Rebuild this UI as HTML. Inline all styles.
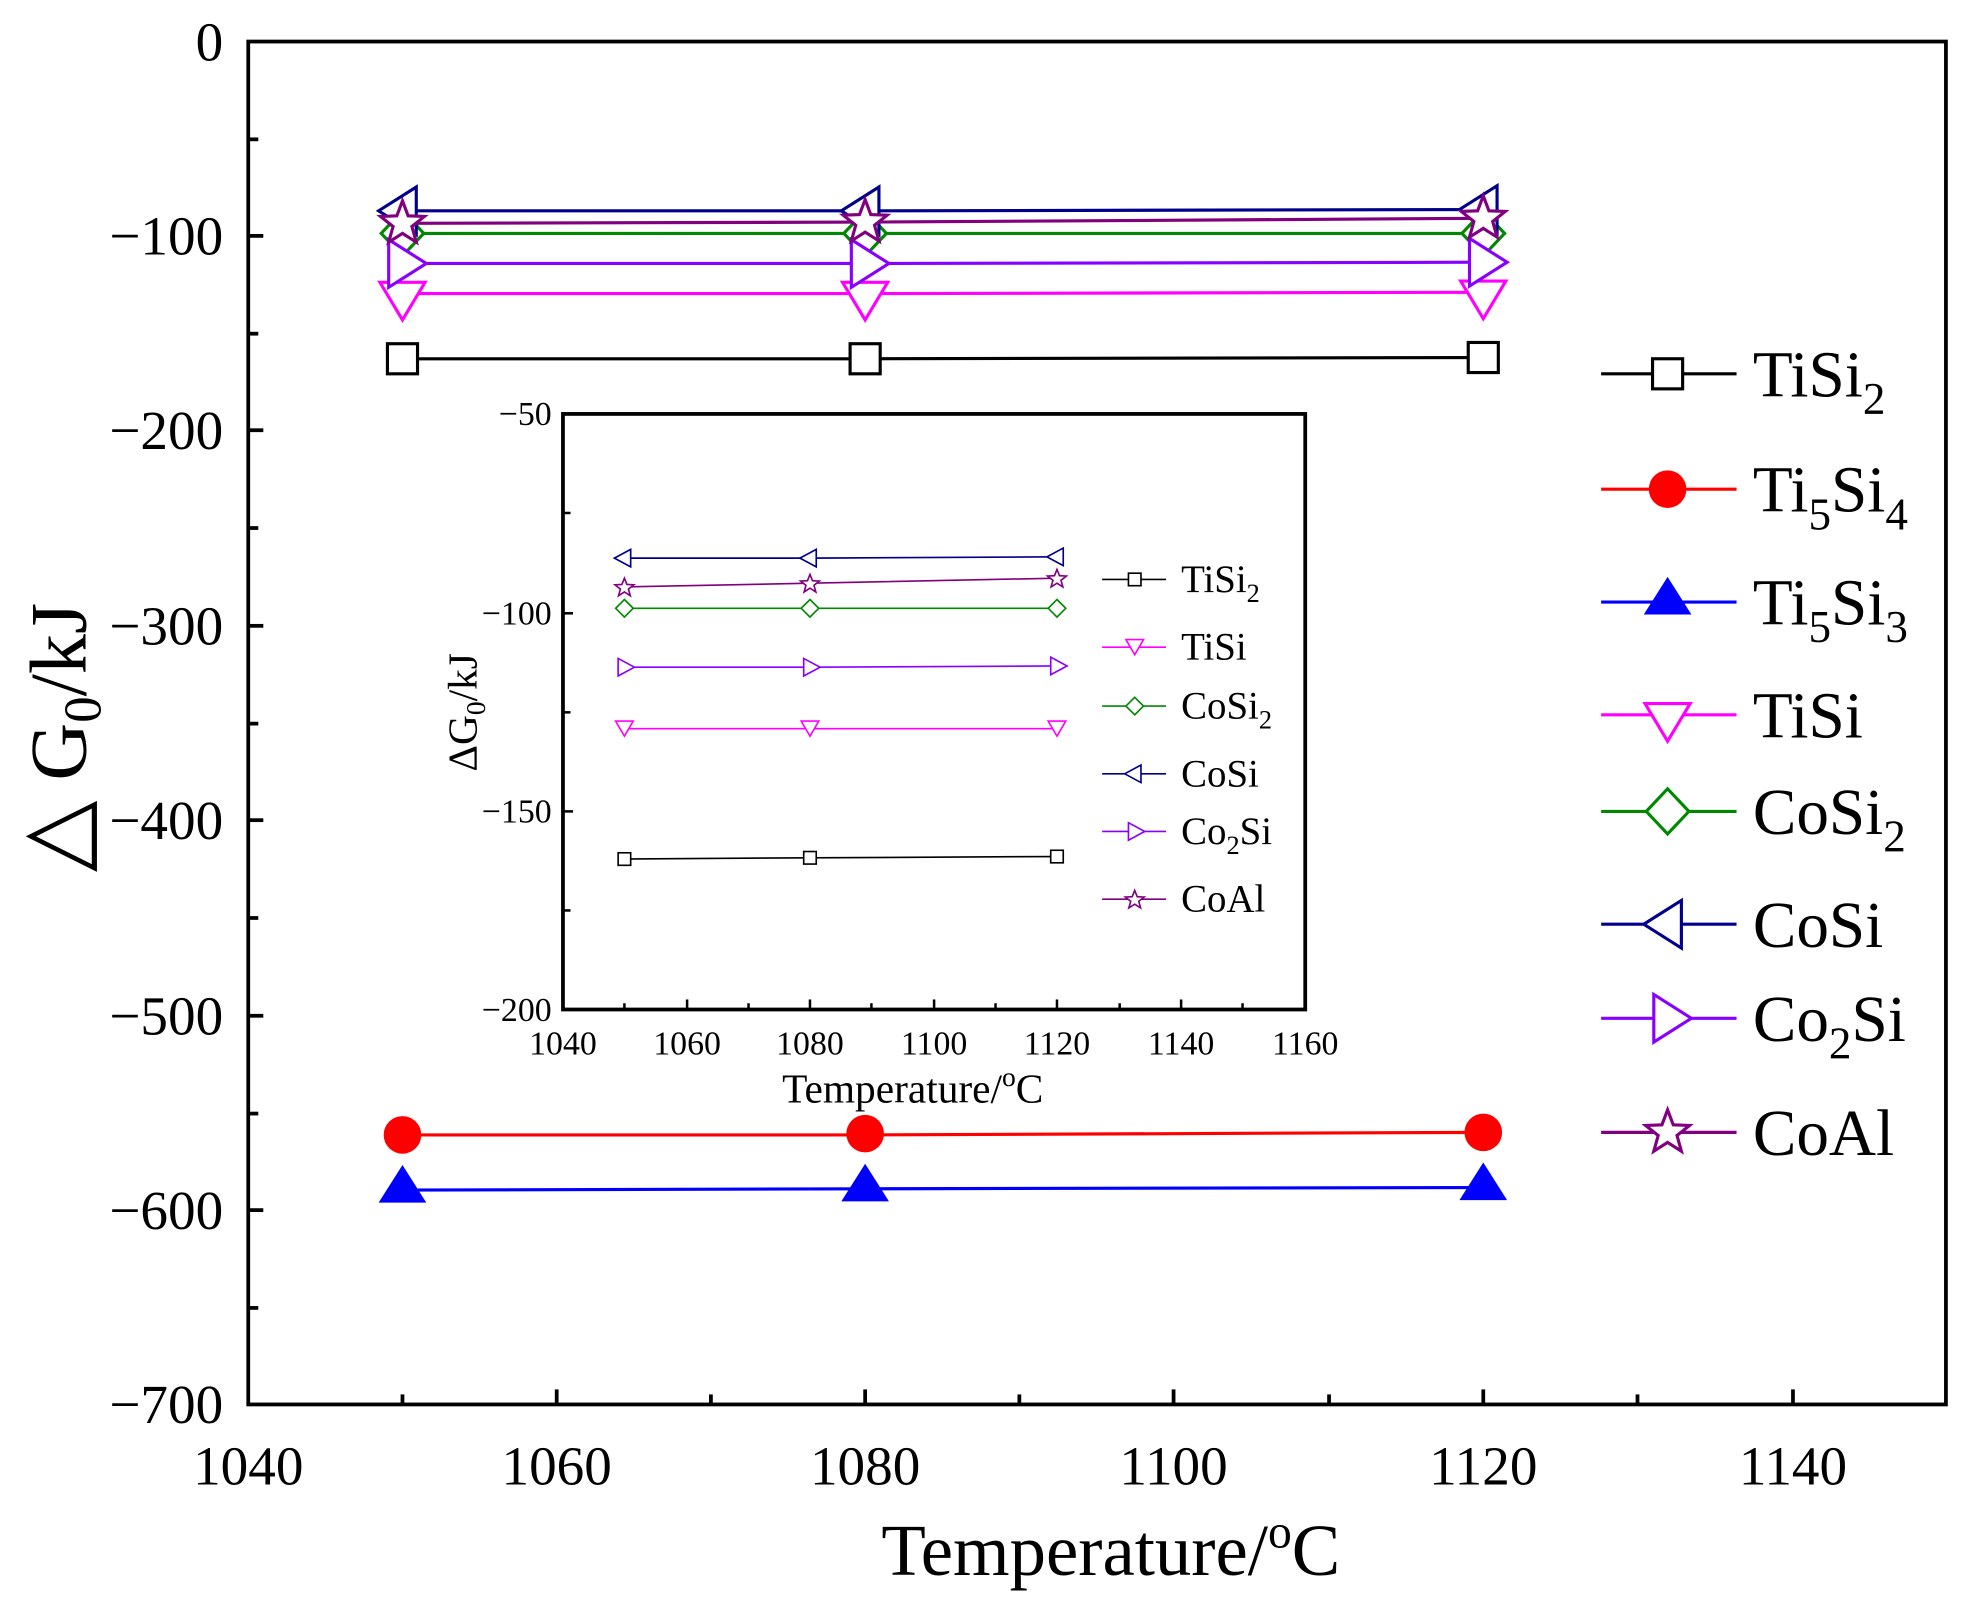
<!DOCTYPE html>
<html><head><meta charset="utf-8"><style>
html,body{margin:0;padding:0;background:#fff}
svg{display:block}
text{font-family:"Liberation Serif",serif}
</style></head><body>
<svg width="1966" height="1609" viewBox="0 0 1568 1283" xmlns="http://www.w3.org/2000/svg">
<defs>
<g id="sq"><rect x="-12" y="-12" width="24" height="24" fill="#fff" stroke="#000" stroke-width="2.5"/></g>
</defs>
<rect x="198" y="33" width="1354" height="1087" fill="none" stroke="#000" stroke-width="3"/>
<g stroke="#000" stroke-width="3">
<line x1="198" y1="188" x2="210" y2="188"/><line x1="198" y1="343" x2="210" y2="343"/><line x1="198" y1="499" x2="210" y2="499"/><line x1="198" y1="654" x2="210" y2="654"/><line x1="198" y1="810" x2="210" y2="810"/><line x1="198" y1="965" x2="210" y2="965"/>
<line x1="198" y1="111" x2="206" y2="111"/><line x1="198" y1="266" x2="206" y2="266"/><line x1="198" y1="421" x2="206" y2="421"/><line x1="198" y1="577" x2="206" y2="577"/><line x1="198" y1="732" x2="206" y2="732"/><line x1="198" y1="888" x2="206" y2="888"/><line x1="198" y1="1043" x2="206" y2="1043"/>
<line x1="444" y1="1120" x2="444" y2="1108"/><line x1="690" y1="1120" x2="690" y2="1108"/><line x1="936" y1="1120" x2="936" y2="1108"/><line x1="1183" y1="1120" x2="1183" y2="1108"/><line x1="1430" y1="1120" x2="1430" y2="1108"/>
<line x1="321" y1="1120" x2="321" y2="1112"/><line x1="567" y1="1120" x2="567" y2="1112"/><line x1="813" y1="1120" x2="813" y2="1112"/><line x1="1060" y1="1120" x2="1060" y2="1112"/><line x1="1306" y1="1120" x2="1306" y2="1112"/>
</g>
<g font-size="44" text-anchor="end">
<text x="178" y="48">0</text><text x="178" y="203">−100</text><text x="178" y="358">−200</text><text x="178" y="514">−300</text><text x="178" y="669">−400</text><text x="178" y="825">−500</text><text x="178" y="980">−600</text><text x="178" y="1135">−700</text>
</g>
<g font-size="44" text-anchor="middle">
<text x="198" y="1184">1040</text><text x="444" y="1184">1060</text><text x="690" y="1184">1080</text><text x="936" y="1184">1100</text><text x="1183" y="1184">1120</text><text x="1430" y="1184">1140</text>
</g>
<text x="886" y="1256" font-size="58" text-anchor="middle">Temperature/<tspan dy="-22" font-size="38">o</tspan><tspan dy="22">C</tspan></text>
<text transform="translate(68,588) rotate(-90)" font-size="64" text-anchor="middle"><tspan font-size="74">△</tspan> G<tspan dy="12" font-size="42">0</tspan><tspan dy="-12">/kJ</tspan></text>

<g stroke-width="2.5" fill="#fff">
<polyline points="321,286 690,286 1183,285" stroke="#000" fill="none"/>
<use href="#sq" x="321" y="286"/><use href="#sq" x="690" y="286"/><use href="#sq" x="1183" y="285"/>
<polyline points="321,905 690,905 1183,903" stroke="#f00" fill="none"/>
<g fill="#f00"><circle cx="321" cy="905" r="15"/><circle cx="690" cy="904" r="15"/><circle cx="1183" cy="903" r="15"/></g>
<polyline points="321,949 690,948 1183,947" stroke="#00f" fill="none"/>
<g fill="#00f"><path d="M321,929 l19,30 h-38z"/><path d="M690,928 l19,30 h-38z"/><path d="M1183,927 l19,30 h-38z"/></g>
<polyline points="321,234 690,234 1183,233" stroke="#f0f" fill="none"/>
<g stroke="#f0f"><path d="M321,255 l18,-30 h-36z"/><path d="M690,255 l18,-30 h-36z"/><path d="M1183,254 l18,-30 h-36z"/></g>
<polyline points="321,186 690,186 1183,186" stroke="#080" fill="none"/>
<g stroke="#080"><path d="M321,168 l17,18 -17,18 -17,-18z"/><path d="M690,168 l17,18 -17,18 -17,-18z"/><path d="M1183,168 l17,18 -17,18 -17,-18z"/></g>
<polyline points="321,168 690,168 1183,167" stroke="#00008b" fill="none"/>
<g stroke="#00008b"><path d="M302,168 l30,-19 v38z"/><path d="M671,168 l30,-19 v38z"/><path d="M1164,167 l30,-19 v38z"/></g>
<polyline points="321,210 690,210 1183,209" stroke="#80f" fill="none"/>
<g stroke="#80f"><path d="M340,210 l-30,-19 v38z"/><path d="M709,210 l-30,-19 v38z"/><path d="M1202,209 l-30,-19 v38z"/></g>
<polyline points="321,178 690,177 1183,174" stroke="#800080" fill="none"/>
<g stroke="#800080"><path d="M321,160 l4.5,12 13,0.5 -10,8 3.5,12.5 -11,-7 -11,7 3.5,-12.5 -10,-8 13,-0.5z"/><path d="M690,159 l4.5,12 13,0.5 -10,8 3.5,12.5 -11,-7 -11,7 3.5,-12.5 -10,-8 13,-0.5z"/><path d="M1183,156 l4.5,12 13,0.5 -10,8 3.5,12.5 -11,-7 -11,7 3.5,-12.5 -10,-8 13,-0.5z"/></g>
</g>

<g stroke-width="2.5" fill="#fff">
<line x1="1277" y1="298" x2="1385" y2="298" stroke="#000"/><rect x="1318" y="286" width="24" height="24" stroke="#000"/>
<line x1="1277" y1="390" x2="1385" y2="390" stroke="#f00"/><circle cx="1330" cy="390" r="15" fill="#f00" stroke="none"/>
<line x1="1277" y1="480" x2="1385" y2="480" stroke="#00f"/><path d="M1330,460 l19,30 h-38z" fill="#00f" stroke="none"/>
<line x1="1277" y1="570" x2="1385" y2="570" stroke="#f0f"/><path d="M1330,591 l18,-30 h-36z" stroke="#f0f"/>
<line x1="1277" y1="647" x2="1385" y2="647" stroke="#080"/><path d="M1330,629 l17,18 -17,18 -17,-18z" stroke="#080"/>
<line x1="1277" y1="737" x2="1385" y2="737" stroke="#00008b"/><path d="M1311,737 l30,-19 v38z" stroke="#00008b"/>
<line x1="1277" y1="812" x2="1385" y2="812" stroke="#80f"/><path d="M1349,812 l-30,-19 v38z" stroke="#80f"/>
<line x1="1277" y1="903" x2="1385" y2="903" stroke="#800080"/><path d="M1330,885 l4.5,12 13,0.5 -10,8 3.5,12.5 -11,-7 -11,7 3.5,-12.5 -10,-8 13,-0.5z" stroke="#800080"/>
</g>
<g font-size="52">
<text x="1398" y="316">TiSi<tspan dy="14" font-size="36">2</tspan></text>
<text x="1398" y="408">Ti<tspan dy="14" font-size="36">5</tspan><tspan dy="-14">Si</tspan><tspan dy="14" font-size="36">4</tspan></text>
<text x="1398" y="498">Ti<tspan dy="14" font-size="36">5</tspan><tspan dy="-14">Si</tspan><tspan dy="14" font-size="36">3</tspan></text>
<text x="1398" y="588">TiSi</text>
<text x="1398" y="665">CoSi<tspan dy="14" font-size="36">2</tspan></text>
<text x="1398" y="755">CoSi</text>
<text x="1398" y="830">Co<tspan dy="14" font-size="36">2</tspan><tspan dy="-14">Si</tspan></text>
<text x="1398" y="921">CoAl</text>
</g>

<rect x="449" y="330" width="592" height="475" fill="#fff" stroke="#000" stroke-width="3"/>
<g stroke="#000" stroke-width="2">
<line x1="449" y1="409" x2="455" y2="409"/><line x1="449" y1="489" x2="457" y2="489"/><line x1="449" y1="568" x2="455" y2="568"/><line x1="449" y1="647" x2="457" y2="647"/><line x1="449" y1="726" x2="455" y2="726"/>
<line x1="548" y1="805" x2="548" y2="797"/><line x1="646" y1="805" x2="646" y2="797"/><line x1="745" y1="805" x2="745" y2="797"/><line x1="843" y1="805" x2="843" y2="797"/><line x1="942" y1="805" x2="942" y2="797"/>
<line x1="498" y1="805" x2="498" y2="800"/><line x1="597" y1="805" x2="597" y2="800"/><line x1="695" y1="805" x2="695" y2="800"/><line x1="794" y1="805" x2="794" y2="800"/><line x1="893" y1="805" x2="893" y2="800"/><line x1="991" y1="805" x2="991" y2="800"/>
</g>
<g font-size="27" text-anchor="end">
<text x="440" y="339">−50</text><text x="440" y="498">−100</text><text x="440" y="656">−150</text><text x="440" y="814">−200</text>
</g>
<g font-size="27" text-anchor="middle">
<text x="449" y="841">1040</text><text x="548" y="841">1060</text><text x="646" y="841">1080</text><text x="745" y="841">1100</text><text x="843" y="841">1120</text><text x="942" y="841">1140</text><text x="1041" y="841">1160</text>
</g>
<text x="728" y="879" font-size="33" text-anchor="middle">Temperature/<tspan dy="-13" font-size="22">o</tspan><tspan dy="13">C</tspan></text>
<text transform="translate(380,568) rotate(-90)" font-size="33" text-anchor="middle">ΔG<tspan dy="7" font-size="22">0</tspan><tspan dy="-7">/kJ</tspan></text>
<g stroke-width="1.3" fill="#fff">
<polyline points="498,685 646,684 843,683" stroke="#000" fill="none"/>
<g stroke="#000"><rect x="493" y="680" width="10" height="10"/><rect x="641" y="679" width="10" height="10"/><rect x="838" y="678" width="10" height="10"/></g>
<polyline points="498,581 646,581 843,581" stroke="#f0f" fill="none"/>
<g stroke="#f0f"><path d="M498,587 l7,-12 h-14z"/><path d="M646,587 l7,-12 h-14z"/><path d="M843,587 l7,-12 h-14z"/></g>
<polyline points="498,485 646,485 843,485" stroke="#080" fill="none"/>
<g stroke="#080"><path d="M498,478 l7,7 -7,7 -7,-7z"/><path d="M646,478 l7,7 -7,7 -7,-7z"/><path d="M843,478 l7,7 -7,7 -7,-7z"/></g>
<polyline points="498,445 646,445 843,444" stroke="#00008b" fill="none"/>
<g stroke="#00008b"><path d="M490,445 l13,-7 v14z"/><path d="M638,445 l13,-7 v14z"/><path d="M835,444 l13,-7 v14z"/></g>
<polyline points="498,532 646,532 843,531" stroke="#80f" fill="none"/>
<g stroke="#80f"><path d="M506,532 l-13,-7 v14z"/><path d="M654,532 l-13,-7 v14z"/><path d="M851,531 l-13,-7 v14z"/></g>
<polyline points="498,468 646,465 843,461" stroke="#800080" fill="none"/>
<g stroke="#800080"><path d="M498,461 l2,5 5.5,0.3 -4.3,3.4 1.5,5.3 -4.7,-3 -4.7,3 1.5,-5.3 -4.3,-3.4 5.5,-0.3z"/><path d="M646,458 l2,5 5.5,0.3 -4.3,3.4 1.5,5.3 -4.7,-3 -4.7,3 1.5,-5.3 -4.3,-3.4 5.5,-0.3z"/><path d="M843,454 l2,5 5.5,0.3 -4.3,3.4 1.5,5.3 -4.7,-3 -4.7,3 1.5,-5.3 -4.3,-3.4 5.5,-0.3z"/></g>
<line x1="879" y1="462" x2="930" y2="462" stroke="#000"/><rect x="900" y="457" width="10" height="10" stroke="#000"/>
<line x1="879" y1="516" x2="930" y2="516" stroke="#f0f"/><path d="M905,522 l7,-12 h-14z" stroke="#f0f"/>
<line x1="879" y1="563" x2="930" y2="563" stroke="#080"/><path d="M905,556 l7,7 -7,7 -7,-7z" stroke="#080"/>
<line x1="879" y1="617" x2="930" y2="617" stroke="#00008b"/><path d="M897,617 l13,-7 v14z" stroke="#00008b"/>
<line x1="879" y1="663" x2="930" y2="663" stroke="#80f"/><path d="M913,663 l-13,-7 v14z" stroke="#80f"/>
<line x1="879" y1="717" x2="930" y2="717" stroke="#800080"/><path d="M905,710 l2,5 5.5,0.3 -4.3,3.4 1.5,5.3 -4.7,-3 -4.7,3 1.5,-5.3 -4.3,-3.4 5.5,-0.3z" stroke="#800080"/>
</g>
<g font-size="31">
<text x="942" y="472">TiSi<tspan dy="8" font-size="21">2</tspan></text>
<text x="942" y="526">TiSi</text>
<text x="942" y="573">CoSi<tspan dy="8" font-size="21">2</tspan></text>
<text x="942" y="627">CoSi</text>
<text x="942" y="673">Co<tspan dy="8" font-size="21">2</tspan><tspan dy="-8">Si</tspan></text>
<text x="942" y="727">CoAl</text>
</g>
</svg>
</body></html>
